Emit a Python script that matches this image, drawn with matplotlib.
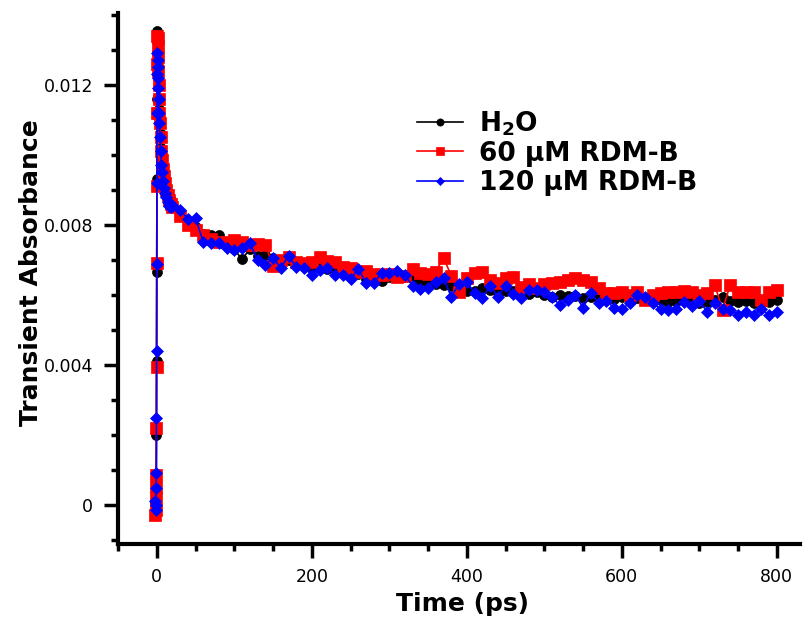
import numpy as np
import matplotlib
matplotlib.use("Agg")
import matplotlib.pyplot as plt
from matplotlib.ticker import FixedLocator, MultipleLocator

# Pump-probe delay times (ps): fine steps across the rise, then 10 ps steps
t_rise = [-2.0, -1.6, -1.2, -0.8, -0.6, -0.4, -0.2, 0.0, 0.2, 0.4,
          0.6, 0.8, 1.0, 1.3, 1.6, 2.0, 2.5, 3.0, 3.5, 4.0,
          5.0, 6.0, 7.0, 8.0, 9.0, 10.0, 12.0, 14.0, 16.0, 18.0]
t_decay = [20, 30, 40, 50, 60, 70, 80, 90, 100, 110,
           120, 130, 140, 150, 160, 170, 180, 190, 200, 210,
           220, 230, 240, 250, 260, 270, 280, 290, 300, 310,
           320, 330, 340, 350, 360, 370, 380, 390, 400, 410,
           420, 430, 440, 450, 460, 470, 480, 490, 500, 510,
           520, 530, 540, 550, 560, 570, 580, 590, 600, 610,
           620, 630, 640, 650, 660, 670, 680, 690, 700, 710,
           720, 730, 740, 750, 760, 770, 780, 790, 800]

# Transient absorbance in mOD
h2o_rise = [0.05, -0.1, 0.15, 0.3, 0.75, 2.0, 4.1, 6.65, 9.3, 11.6,
            12.9, 13.55, 13.4, 13.1, 12.8, 12.4, 12.0, 11.6, 11.3, 11.0,
            10.6, 10.2, 9.9, 9.65, 9.45, 9.3, 9.05, 8.9, 8.8, 8.7]
h2o_decay = [8.6, 8.35, 8.1, 7.95, 7.75, 7.7, 7.72, 7.45, 7.3, 7.02,
             7.3, 7.1, 7.15, 7.05, 6.95, 7.0, 6.9, 6.85, 6.8, 6.86,
             6.75, 6.8, 6.7, 6.62, 6.6, 6.45, 6.5, 6.4, 6.52, 6.55,
             6.5, 6.48, 6.4, 6.35, 6.3, 6.28, 6.25, 6.2, 6.1, 6.12,
             6.2, 6.15, 6.05, 6.1, 6.12, 6.05, 6.02, 6.08, 6.0, 5.95,
             6.0, 5.97, 5.98, 5.92, 5.95, 5.9, 5.92, 5.88, 5.95, 5.85,
             5.9, 5.85, 5.82, 5.85, 5.8, 5.83, 5.86, 5.8, 5.78, 5.8,
             5.85, 5.94, 5.82, 5.8, 5.83, 5.78, 5.76, 5.8, 5.86]

rdm60_rise = [-0.3, 0.2, -0.15, 0.5, 0.86, 2.2, 3.95, 6.9, 9.1, 11.2,
              12.6, 13.4, 13.35, 13.1, 12.8, 12.4, 12.0, 11.6, 11.2, 10.9,
              10.5, 10.1, 9.85, 9.6, 9.4, 9.2, 9.0, 8.85, 8.7, 8.6]
rdm60_decay = [8.5, 8.25, 8.0, 7.86, 7.71, 7.6, 7.52, 7.5, 7.57, 7.5,
               7.43, 7.46, 7.43, 6.83, 7.0, 7.09, 6.95, 6.91, 6.94, 7.09,
               6.98, 6.94, 6.8, 6.78, 6.66, 6.68, 6.6, 6.57, 6.6, 6.5,
               6.55, 6.74, 6.63, 6.6, 6.66, 7.06, 6.55, 6.09, 6.49, 6.63,
               6.64, 6.43, 6.34, 6.49, 6.51, 6.23, 6.3, 6.2, 6.3, 6.35,
               6.37, 6.43, 6.49, 6.42, 6.36, 6.2, 6.06, 6.06, 6.09, 6.0,
               6.09, 5.86, 6.0, 6.06, 6.09, 6.09, 6.12, 6.09, 6.0, 6.05,
               6.29, 5.57, 6.29, 6.09, 6.07, 6.09, 5.86, 6.09, 6.14]

rdm120_rise = [0.1, -0.15, 0.0, 0.49, 0.91, 2.49, 4.4, 6.88, 9.2, 11.2,
               12.3, 12.9, 12.7, 12.5, 12.2, 11.9, 11.6, 11.2, 10.9, 10.5,
               10.1, 9.7, 9.5, 9.25, 9.05, 8.9, 8.8, 8.65, 8.55, 8.5]
rdm120_decay = [8.57, 8.43, 8.17, 8.2, 7.51, 7.49, 7.49, 7.34, 7.28, 7.34,
                7.49, 7.0, 6.86, 7.06, 6.77, 7.11, 6.8, 6.77, 6.57, 6.71,
                6.77, 6.57, 6.57, 6.45, 6.74, 6.34, 6.34, 6.63, 6.63, 6.69,
                6.57, 6.26, 6.17, 6.2, 6.37, 6.49, 5.94, 6.31, 6.37, 6.06,
                5.9, 6.26, 5.94, 6.26, 6.03, 5.9, 6.14, 6.14, 6.09, 5.94,
                5.71, 5.86, 6.0, 5.63, 6.06, 5.77, 5.83, 5.63, 5.59, 5.76,
                6.0, 5.95, 5.76, 5.6, 5.57, 5.6, 5.8, 5.69, 5.83, 5.52,
                5.78, 5.59, 5.57, 5.43, 5.52, 5.43, 5.59, 5.43, 5.5]

series_labels = [r"$\mathbf{H_2O}$", "60 µM RDM-B", "120 µM RDM-B"]
x_ticks = [0, 200, 400, 600, 800]
y_ticks = [0.0, 0.004, 0.008, 0.012]
y_tick_labels = ["0", "0.004", "0.008", "0.012"]

time_ps = np.array(t_rise + t_decay, dtype=float)
h2o = np.array(h2o_rise + h2o_decay) * 1e-3
rdm60 = np.array(rdm60_rise + rdm60_decay) * 1e-3
rdm120 = np.array(rdm120_rise + rdm120_decay) * 1e-3

W, H = 805, 617
fig = plt.figure(figsize=(W / 100, H / 100), dpi=100)
ax = fig.add_axes([118 / W, (H - 544) / H, (800 - 118) / W, (544 - 13.5) / H])

ax.plot(time_ps, h2o, "-o", color="black", ms=7.2, lw=1.2, mew=0.5,
        label=series_labels[0])
ax.plot(time_ps, rdm60, "-s", color="#ff0000", ms=8.8, lw=1.2, mew=0.5,
        label=series_labels[1])
ax.plot(time_ps, rdm120, "-D", color="#0000ff", ms=6.0, lw=1.2, mew=0.5,
        label=series_labels[2])

ax.set_xlim(-50, 830)
ax.set_ylim(-0.00112, 0.01404)

ax.xaxis.set_major_locator(FixedLocator(x_ticks))
ax.xaxis.set_minor_locator(MultipleLocator(50))
ax.yaxis.set_major_locator(FixedLocator(y_ticks))
ax.yaxis.set_minor_locator(MultipleLocator(0.001))
ax.set_yticklabels(y_tick_labels)

ax.tick_params(which="major", direction="out", length=10, width=2.5,
               labelsize=12.5, color="black")
ax.tick_params(axis="x", which="major", pad=7)
ax.tick_params(axis="y", which="major", pad=8)
ax.tick_params(which="minor", direction="out", length=5, width=2.5)

for side in ("top", "right"):
    ax.spines[side].set_visible(False)
for side in ("left", "bottom"):
    ax.spines[side].set_linewidth(3)

fig.text(462 / W, 1 - 611 / H, "Time (ps)", ha="center", va="baseline",
         fontsize=18, fontweight="bold")
fig.text(38 / W, 1 - 273 / H, "Transient Absorbance", rotation=90,
         rotation_mode="anchor", ha="center", va="baseline",
         fontsize=18, fontweight="bold")

ax.legend(loc="upper left", bbox_to_anchor=(417 / W, 1 - 109 / H),
          bbox_transform=fig.transFigure, frameon=False,
          prop={"weight": "bold", "size": 19}, handlelength=1.75,
          handletextpad=0.6, labelspacing=0.12, borderpad=0,
          borderaxespad=0, markerscale=0.72)

fig.savefig("out.png", dpi=100)
